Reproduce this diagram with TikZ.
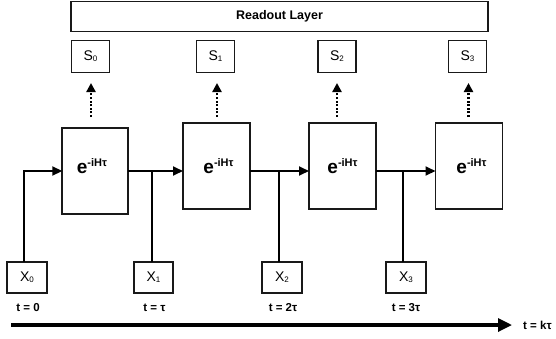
\documentclass[tikz,border=0pt]{standalone}
\usepackage{fontspec}
\setmainfont{Liberation Sans}
\usetikzlibrary{arrows.meta}
\newcommand{\sub}[1]{{\fontsize{8}{9}\selectfont\raisebox{-1pt}{#1}}}
\newcommand{\expo}{\textbf{\fontsize{19}{20}\selectfont e{\fontsize{11}{12}\selectfont\raisebox{6.5pt}{-iHτ}}}}
\begin{document}
\begin{tikzpicture}[x=1pt,y=-1pt,
  box/.style={draw=black!90, line width=1.8pt, inner sep=0pt, outer sep=0pt},
  sbox/.style={box, minimum width=38pt, minimum height=32pt, font=\fontsize{14}{16}\selectfont},
  ebox/.style={box, minimum width=66pt, minimum height=86pt},
  elbl/.style={inner sep=0pt, anchor=base},
  tlbl/.style={inner sep=0pt, anchor=base, font=\bfseries\fontsize{11.5}{13}\selectfont},
  conn/.style={line width=1.8pt},
  arr/.style={line width=1.8pt, -{Triangle[length=10pt,width=9pt]}},
  dots/.style={line width=2.4pt, dash pattern=on 2pt off 1.6pt, -{Triangle[length=9pt,width=9pt]}},
  timearr/.style={line width=3.2pt, -{Triangle[length=14pt,width=13pt]}}
]
\useasboundingbox (0,0) rectangle (556,338);

% readout layer
\node[box, minimum width=417pt, minimum height=30pt, font=\bfseries\fontsize{12.5}{14}\selectfont] (R) at (279.5,16.5) {Readout Layer};

% state boxes
\node[sbox] (S0) at (90.5,56.5) {S\sub{0}};
\node[sbox] (S1) at (215.5,56.5) {S\sub{1}};
\node[sbox] (S2) at (337,56.5) {S\sub{2}};
\node[sbox] (S3) at (467.5,56.5) {S\sub{3}};

% evolution boxes
\node[ebox] (E1) at (95.3,171) {};
\node[ebox, minimum width=67pt] (E2) at (216.5,166) {};
\node[ebox, minimum width=67pt] (E3) at (342.5,166) {};
\node[ebox, minimum width=67pt] (E4) at (469,166) {};
\node[elbl] (e1) at (92,173) {\expo};
\node[elbl] (e2) at (218.5,173) {\expo};
\node[elbl] (e3) at (342.5,173) {\expo};
\node[elbl] (e4) at (471.5,173) {\expo};

% dotted readout arrows
\coordinate (d0) at (91,117);   \coordinate (u0) at (91,83);
\coordinate (d1) at (217,117);  \coordinate (u1) at (217,83);
\coordinate (d2) at (337,117);  \coordinate (u2) at (337,83);
\coordinate (d3) at (468.5,117);\coordinate (u3) at (468.5,83);
\draw[dots] (d0) -- (u0);
\draw[dots] (d1) -- (u1);
\draw[dots] (d2) -- (u2);
\draw[dots] (d3) -- (u3);

% input boxes
\node[sbox, minimum width=40pt, minimum height=31pt] (X0) at (27,277.5) {X\sub{0}};
\node[sbox, minimum width=39pt, minimum height=31pt] (X1) at (153.5,277.5) {X\sub{1}};
\node[sbox, minimum width=40pt, minimum height=31pt] (X2) at (282,277.5) {X\sub{2}};
\node[sbox, minimum width=40pt, minimum height=31pt] (X3) at (406,277.5) {X\sub{3}};

% junctions
\coordinate (j0) at (24,171);
\coordinate (j1) at (152,171);
\coordinate (j2) at (279,171);
\coordinate (j3) at (403,171);

\draw[arr] (X0.north -| j0) -- (j0) -- (E1.west |- j0);
\draw[conn] (X1.north -| j1) -- (j1);
\draw[conn] (X2.north -| j2) -- (j2);
\draw[conn] (X3.north -| j3) -- (j3);
\draw[arr] (E1.east |- j1) -- (E2.west |- j1);
\draw[arr] (E2.east |- j2) -- (E3.west |- j2);
\draw[arr] (E3.east |- j3) -- (E4.west |- j3);

% time labels
\node[tlbl] (t0) at (28,311) {t = 0};
\node[tlbl] (t1) at (154.5,311) {t = τ};
\node[tlbl] (t2) at (283,311) {t = 2τ};
\node[tlbl] (t3) at (406,311) {t = 3τ};

% time axis
\coordinate (ts) at (11,325);
\coordinate (te) at (512,325);
\draw[timearr] (ts) -- (te);
\node[tlbl, anchor=west] (tk) at (523,325) {t = kτ};
\end{tikzpicture}
\end{document}
